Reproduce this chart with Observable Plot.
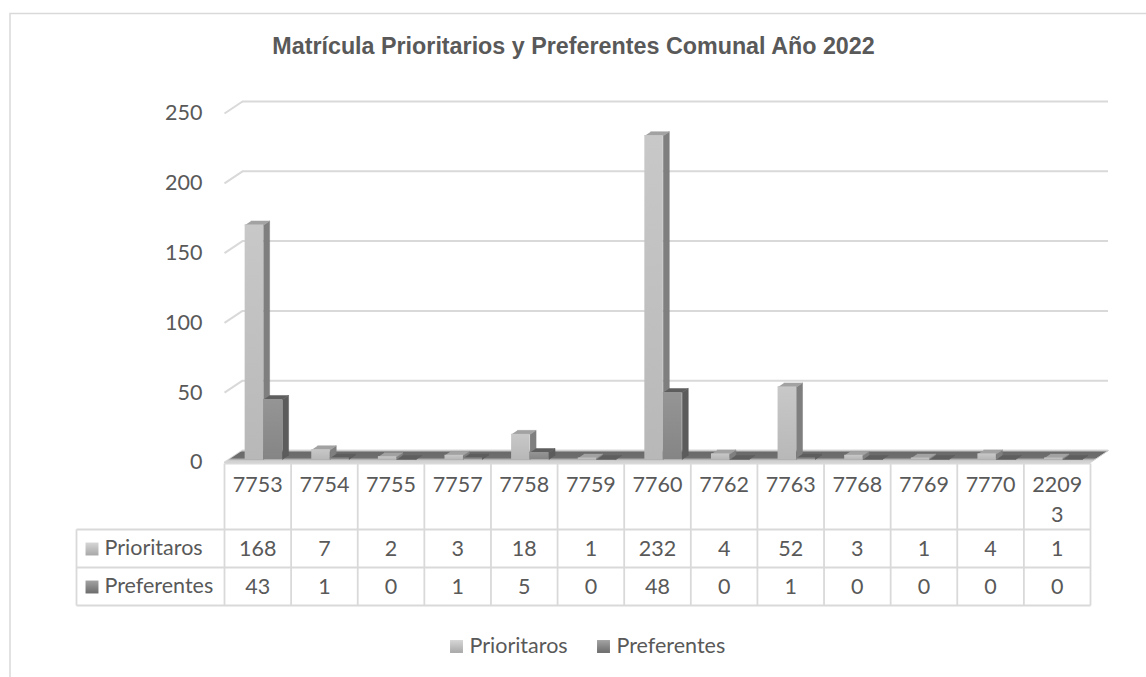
<!DOCTYPE html>
<html><head><meta charset="utf-8">
<script src="https://cdn.jsdelivr.net/npm/d3@7"></script>
<script src="https://cdn.jsdelivr.net/npm/@observablehq/plot@0.6"></script>
<style>html,body{margin:0;padding:0;background:#fff;} #chart{width:1146px;height:677px;}</style>
</head><body><div id="chart"></div>
<script>
// ---------- data ----------
const title = "Matrícula Prioritarios y Preferentes Comunal Año 2022";
const categories = ["7753","7754","7755","7757","7758","7759","7760","7762","7763","7768","7769","7770","22093"];
const prioritarios = [168, 7, 2, 3, 18, 1, 232, 4, 52, 3, 1, 4, 1];
const preferentes  = [43, 1, 0, 1, 5, 0, 48, 0, 1, 0, 0, 0, 0];
const seriesNames = ["Prioritaros", "Preferentes"];
const yTicks = [0, 50, 100, 150, 200, 250];

// ---------- layout ----------
const W = 1146, H = 677;
const X0 = 224, X1 = 1090, Y0 = 462, K = 1.396;
const PXU = (X1 - X0) / categories.length;
const xAt = px => (px - X0) / PXU;
const yAt = px => (Y0 - px) / K;
const DX = 18 / PXU, DY = 12 / K;   // back wall depth
const BD = 6 / PXU, BH = 4 / K;     // bar depth
const BASE = 3 / K;
const slots = [[0.31, 0.587], [0.587, 0.872]];
const sideColors = ["#7f7f7f", "#5c5c5c"];
const topColors = ["#a2a2a2", "#5e5e5e"];
const textColor = "#595959";
const gridColor = "#d9d9d9";
const FS = 21.5;

function barMarks(values, s) {
  const [a, b] = slots[s];
  const fronts = values.map((v, i) => ({x1: i + a, x2: i + b, y1: BASE, y2: BASE + v}));
  const sides = values.flatMap((v, i) => [[i + b, BASE], [i + b, BASE + v], [i + b + BD, BASE + v + BH], [i + b + BD, BASE + BH]]
    .map(([x, y]) => ({id: i, x, y})));
  const tops = values.flatMap((v, i) => [[i + a, BASE + v], [i + b, BASE + v], [i + b + BD, BASE + v + BH], [i + a + BD, BASE + v + BH]]
    .map(([x, y]) => ({id: i, x, y})));
  return [
    Plot.line(sides, {x: "x", y: "y", z: "id", fill: sideColors[s], stroke: sideColors[s], strokeWidth: 0.5}),
    Plot.line(tops, {x: "x", y: "y", z: "id", fill: topColors[s], stroke: topColors[s], strokeWidth: 0.5}),
    Plot.rect(fronts, {x1: "x1", x2: "x2", y1: "y1", y2: "y2", fill: `url(#front${s})`})
  ];
}

const floor = [{x: 0, y: 0}, {x: categories.length, y: 0}, {x: categories.length + DX, y: DY}, {x: DX, y: DY}];
const colEdges = d3.range(categories.length + 1);
const rowLines = [
  {x1: 0, x2: categories.length, y: yAt(463)},
  {x1: xAt(76), x2: categories.length, y: yAt(529)},
  {x1: xAt(76), x2: categories.length, y: yAt(567)},
  {x1: xAt(76), x2: categories.length, y: yAt(605)}
];

const chart = Plot.plot({
  width: W, height: H, margin: 0,
  style: {fontFamily: "Lato, 'Open Sans', sans-serif", fontSize: FS + "px", color: textColor, background: "white"},
  x: {type: "linear", domain: [0, categories.length], range: [X0, X1], axis: null},
  y: {type: "linear", domain: [0, 250], range: [Y0, Y0 - 250 * K], axis: null},
  marks: [
    Plot.frame({stroke: gridColor, strokeWidth: 1.5, insetLeft: 9.5, insetTop: 13, insetRight: -20, insetBottom: -20}),
    // back wall gridlines
    Plot.ruleY(yTicks, {y: d => d + DY, x1: DX, x2: categories.length + DX, stroke: gridColor, strokeWidth: 2}),
    Plot.link(yTicks, {x1: 0, x2: DX, y1: d => d, y2: d => d + DY, stroke: gridColor, strokeWidth: 2}),
    // floor
    Plot.line(floor, {x: "x", y: "y", fill: "url(#floorGrad)", stroke: "#cfcfcf", strokeWidth: 1}),
    // bars
    ...barMarks(prioritarios, 0),
    ...barMarks(preferentes, 1),
    // y labels
    Plot.text(yTicks, {y: d => d, frameAnchor: "left", dx: 202, textAnchor: "end", lineAnchor: "middle", fill: textColor, fontSize: FS}),
    // data table grid
    Plot.link(colEdges, {x1: d => d, x2: d => d, y1: yAt(463), y2: yAt(605), stroke: gridColor, strokeWidth: 1.8}),
    Plot.link([xAt(76)], {x1: d => d, x2: d => d, y1: yAt(529), y2: yAt(605), stroke: gridColor, strokeWidth: 1.8}),
    Plot.link(rowLines, {x1: "x1", x2: "x2", y1: "y", y2: "y", stroke: gridColor, strokeWidth: 1.8}),
    // table header
    Plot.text(categories, {x: (d, i) => i + 0.5, frameAnchor: "top", dy: 470, lineAnchor: "top", lineHeight: 1.4,
      text: d => d.length > 4 ? d.slice(0, 4) + "\n" + d.slice(4) : d, fill: textColor, fontSize: FS}),
    // table values
    Plot.text(prioritarios, {x: (d, i) => i + 0.5, frameAnchor: "top", dy: 548.5, lineAnchor: "middle", text: d => String(d), fill: textColor, fontSize: FS}),
    Plot.text(preferentes, {x: (d, i) => i + 0.5, frameAnchor: "top", dy: 586.5, lineAnchor: "middle", text: d => String(d), fill: textColor, fontSize: FS}),
    // table row keys
    Plot.dot([0], {frameAnchor: "top-left", dx: 91.5, dy: 548.5, symbol: "square", r: 7.3, fill: "url(#key0)", stroke: "none"}),
    Plot.dot([0], {frameAnchor: "top-left", dx: 91.5, dy: 586.5, symbol: "square", r: 7.3, fill: "url(#key1)", stroke: "none"}),
    Plot.text([seriesNames[0]], {frameAnchor: "top-left", dx: 104, dy: 548, textAnchor: "start", lineAnchor: "middle", fill: textColor, fontSize: FS}),
    Plot.text([seriesNames[1]], {frameAnchor: "top-left", dx: 104, dy: 586, textAnchor: "start", lineAnchor: "middle", fill: textColor, fontSize: FS}),
    // legend
    Plot.dot([0], {frameAnchor: "top-left", dx: 456, dy: 646, symbol: "square", r: 7.3, fill: "url(#key0)", stroke: "none"}),
    Plot.dot([0], {frameAnchor: "top-left", dx: 603, dy: 646, symbol: "square", r: 7.3, fill: "url(#key1)", stroke: "none"}),
    Plot.text([seriesNames[0]], {frameAnchor: "top-left", dx: 469, dy: 646, textAnchor: "start", lineAnchor: "middle", fill: textColor, fontSize: FS}),
    Plot.text([seriesNames[1]], {frameAnchor: "top-left", dx: 616, dy: 646, textAnchor: "start", lineAnchor: "middle", fill: textColor, fontSize: FS}),
    // title
    Plot.text([title], {frameAnchor: "top", dy: 46, lineAnchor: "middle", fontWeight: "bold", fontFamily: "'Liberation Sans', Arial, sans-serif", fontSize: 23.3, fill: textColor})
  ]
});

// gradients
const ns = "http://www.w3.org/2000/svg";
const defs = document.createElementNS(ns, "defs");
function grad(id, stops) {
  const g = document.createElementNS(ns, "linearGradient");
  g.setAttribute("id", id);
  g.setAttribute("x1", "0"); g.setAttribute("y1", "0"); g.setAttribute("x2", "0"); g.setAttribute("y2", "1");
  for (const [o, c] of stops) {
    const s = document.createElementNS(ns, "stop");
    s.setAttribute("offset", o); s.setAttribute("stop-color", c);
    g.appendChild(s);
  }
  defs.appendChild(g);
}
grad("front0", [["0", "#c8c8c8"], ["1", "#b8b8b8"]]);
grad("front1", [["0", "#959595"], ["1", "#858585"]]);
grad("key0", [["0", "#d6d6d6"], ["1", "#a8a8a8"]]);
grad("key1", [["0", "#a3a3a3"], ["1", "#6c6c6c"]]);
grad("floorGrad", [["0", "#d0d0d0"], ["0.15", "#6a6a6a"], ["0.6", "#6e6e6e"], ["0.8", "#c8c8c8"], ["1", "#d9d9d9"]]);
chart.insertBefore(defs, chart.firstChild);
document.getElementById("chart").appendChild(chart);
</script>
</body></html>
